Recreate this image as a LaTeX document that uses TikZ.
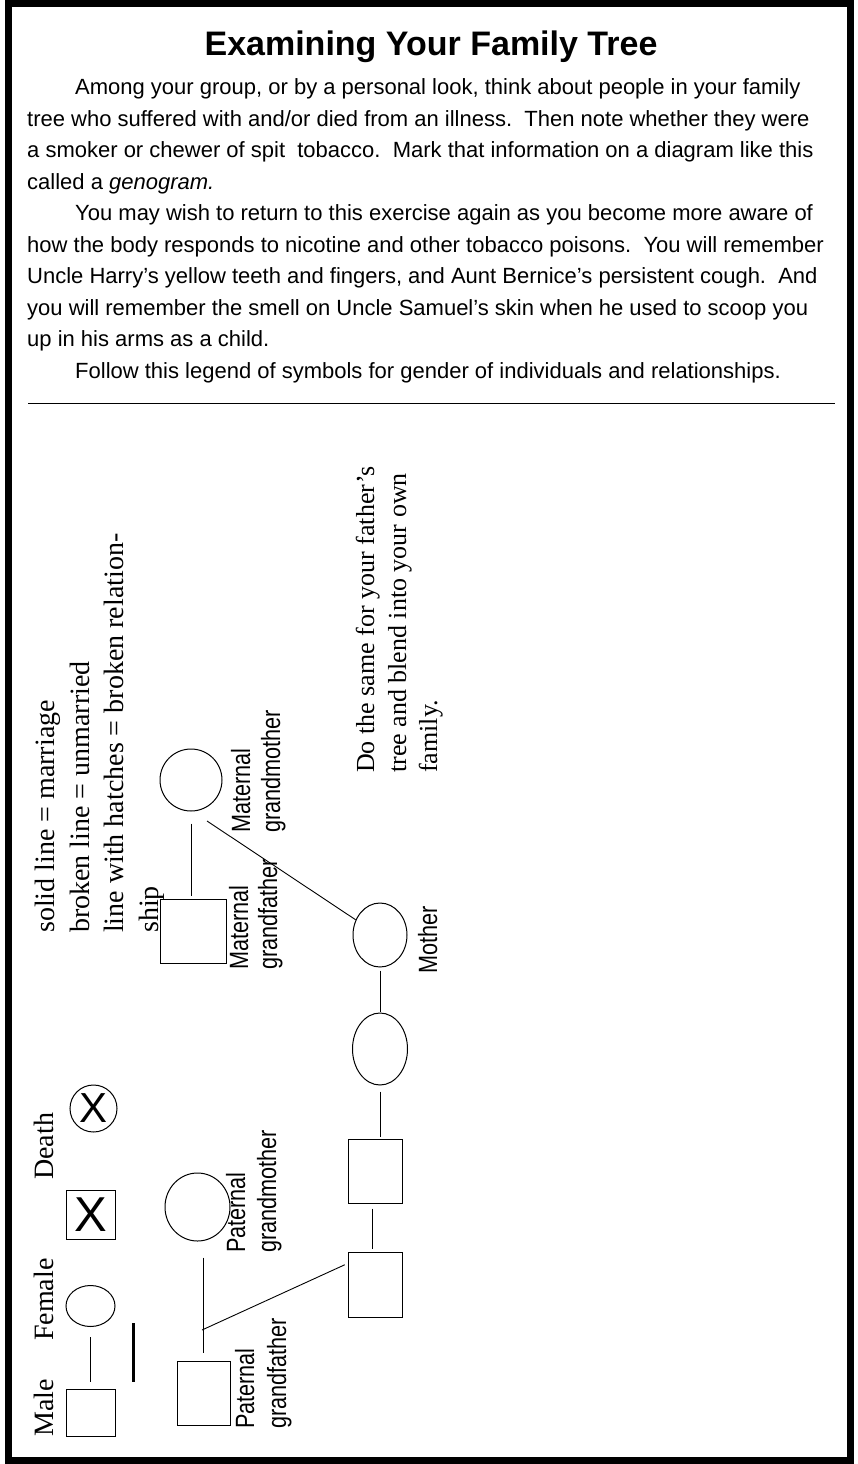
\documentclass[tikz,border=0pt]{standalone}
\usepackage{fontspec}
\setmainfont{Liberation Sans}
\newfontfamily\legendfont{Liberation Serif}
\newfontfamily\narrowfont[FakeStretch=0.82]{Liberation Sans}
\usetikzlibrary{shapes.geometric}

\tikzset{
  box/.style={draw, rectangle, inner sep=0pt, line width=1pt},
  oval/.style={draw, ellipse, inner sep=0pt, line width=1pt},
  link/.style={line width=0.9pt},
  bodyline/.style={anchor=base west, inner sep=0pt, font=\fontsize{22}{26}\selectfont},
  legend/.style={rotate=90, anchor=base west, inner sep=0pt, font=\legendfont\fontsize{28}{34}\selectfont},
  note/.style={rotate=90, anchor=base west, inner sep=0pt, font=\legendfont\fontsize{26}{31}\selectfont},
  who/.style={rotate=90, anchor=base west, inner sep=0pt, font=\narrowfont\fontsize{26.4}{30}\selectfont},
}

\begin{document}
\begin{tikzpicture}[x=1pt, y=-1pt]

\path[fill=white, use as bounding box] (0,0) rectangle (858,1464);
\draw[line width=7pt] (8.5,3.5) rectangle (850.5,1460.5);

% heading and text
\node[anchor=base, inner sep=0pt, font=\bfseries\fontsize{34}{40}\selectfont] (title) at (431,56) {Examining Your Family Tree};
\node[bodyline] (p1) at (75,94.5) {Among your group, or by a personal look, think about people in your family};
\node[bodyline] (p2) at (27,126) {tree who suffered with and/or died from an illness.\ \ Then note whether they were};
\node[bodyline] (p3) at (27,157.5) {a smoker or chewer of spit\ \ tobacco.\ \ Mark that information on a diagram like this};
\node[bodyline] (p4) at (27,189) {called a \textit{genogram.}};
\node[bodyline] (p5) at (75,220.5) {You may wish to return to this exercise again as you become more aware of};
\node[bodyline] (p6) at (27,252) {how the body responds to nicotine and other tobacco poisons.\ \ You will remember};
\node[bodyline] (p7) at (27,283.5) {Uncle Harry’s yellow teeth and fingers, and Aunt Bernice’s persistent cough.\ \ And};
\node[bodyline] (p8) at (27,315) {you will remember the smell on Uncle Samuel’s skin when he used to scoop you};
\node[bodyline] (p9) at (27,346.5) {up in his arms as a child.};
\node[bodyline] (p10) at (75,378) {Follow this legend of symbols for gender of individuals and relationships.};
\draw[link] (28,403) -- (835,403);

% legend
\node[legend] (solid) at (54,933) {solid line = marriage};
\node[legend] (broken) at (89,933) {broken line = unmarried};
\node[legend] (hatch) at (123.5,933) {line with hatches = broken relation-};
\node[legend] (ship) at (158,933) {ship};

\node[legend] (male) at (53,1437) {Male};
\node[legend] (female) at (53,1341) {Female};
\node[legend] (death) at (53,1180) {Death};
\node[box, minimum width=49pt, minimum height=47pt] (lmale) at (90.5,1412.5) {};
\node[oval, minimum width=49pt, minimum height=41pt] (lfem) at (90.5,1306) {};
\node[box, minimum size=49pt, font=\fontsize{49}{49}\selectfont] (ldsq) at (90.5,1214.5) {X};
\node[oval, minimum size=47pt, font=\fontsize{42}{42}\selectfont] (ldci) at (93.5,1108.5) {X};
\draw[link, shorten <=10pt, shorten >=7pt] (lfem.south) -- (lmale.north);
\draw[line width=3pt] (133,1323) -- (133,1382);

% mother's side
\node[note] (same1) at (374,773) {Do the same for your father’s};
\node[note] (same2) at (406,773) {tree and blend into your own};
\node[note] (same3) at (437,773) {family.};

\node[oval, minimum size=62pt] (mgm) at (191,780) {};
\node[box, minimum width=66pt, minimum height=64pt] (mgf) at (193,931) {};
\node[oval, minimum width=54pt, minimum height=64pt] (mom) at (380,935) {};
\node[oval, minimum width=55pt, minimum height=72pt] (self) at (380,1049) {};
\node[box, minimum width=54pt, minimum height=64pt] (boxa) at (375,1171) {};
\node[box, minimum width=54pt, minimum height=65pt] (dad) at (375,1284.5) {};

\node[who] (mgmA) at (250,833) {Maternal};
\node[who] (mgmB) at (280,833) {grandmother};
\node[who] (mgfA) at (248,970) {Maternal};
\node[who] (mgfB) at (277,970) {grandfather};
\node[who] (momA) at (437,974) {Mother};

\coordinate (mjoin) at (207,821);
\draw[link, shorten <=12pt, shorten >=3pt] (mgm.south) -- (mgm.south |- mgf.north);
\draw[link] (mjoin) -- (mom.148);
\draw[link, shorten <=3pt, shorten >=1pt] (mom.south) -- (self.north);
\draw[link, shorten <=6pt, shorten >=2pt] (self.south) -- (self.south |- boxa.north);
\draw[link, shorten <=5pt, shorten >=3pt] ([xshift=-3pt]boxa.south) -- ([xshift=-3pt]dad.north);

% father's side
\node[oval, minimum width=65pt, minimum height=68pt] (pgm) at (197.5,1207) {};
\node[box, minimum width=53pt, minimum height=64pt] (pgf) at (203.5,1393) {};
\node[who] (pgmA) at (245,1253) {Paternal};
\node[who] (pgmB) at (276,1253) {grandmother};
\node[who] (pgfA) at (254,1429) {Paternal};
\node[who] (pgfB) at (286,1429) {grandfather};

\coordinate (pjoin) at (202,1330);
\draw[link, shorten <=16pt, shorten >=8pt] (pgm.south -| pgf.north) -- (pgf.north);
\draw[link, shorten >=3pt] (pjoin) -- ([yshift=21pt]dad.west);

\end{tikzpicture}
\end{document}
